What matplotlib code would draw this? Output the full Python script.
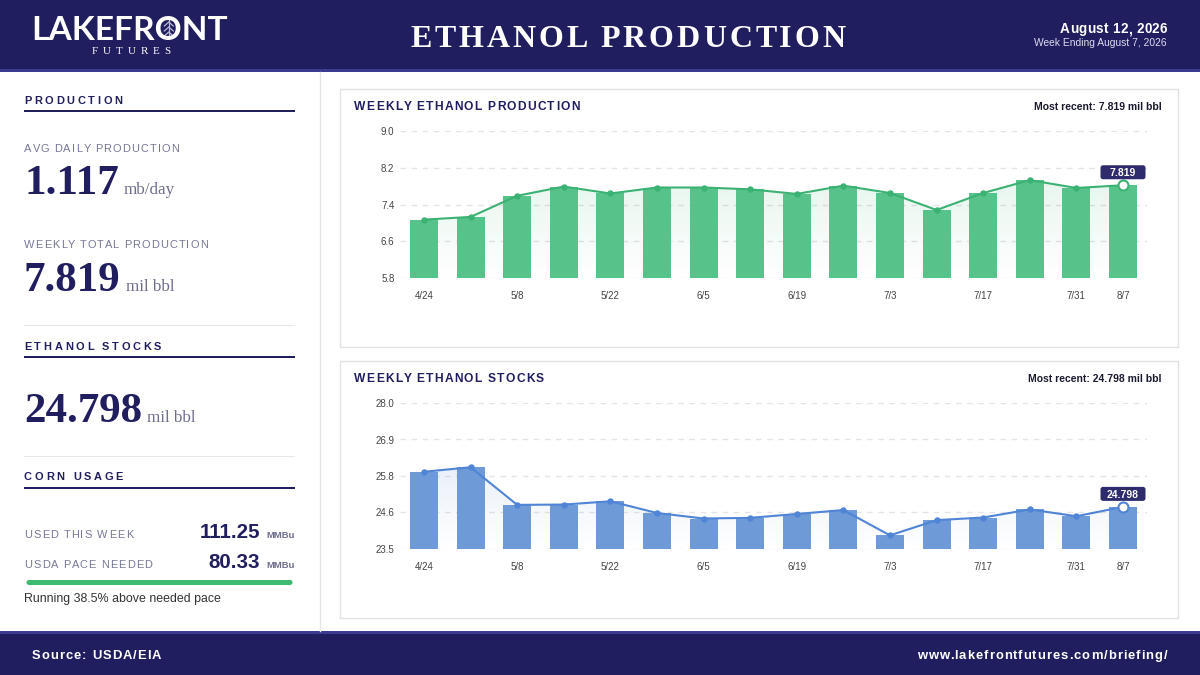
"""
Lakefront Futures ethanol briefing card: weekly production and stocks.
"""
import matplotlib
matplotlib.use('Agg')
import matplotlib.pyplot as plt
from matplotlib.patches import Rectangle, FancyBboxPatch
from matplotlib.transforms import IdentityTransform
import numpy as np

# data
weeks = ['4/24', '5/1', '5/8', '5/15', '5/22', '5/29', '6/5', '6/12',
         '6/19', '6/26', '7/3', '7/10', '7/17', '7/24', '7/31', '8/7']
tick_weeks = ['4/24', '5/8', '5/22', '6/5', '6/19', '7/3', '7/17', '7/31', '8/7']
production = [7.07, 7.13, 7.59, 7.79, 7.64, 7.77, 7.77, 7.73,
              7.63, 7.81, 7.65, 7.28, 7.65, 7.93, 7.76, 7.819]
stocks = [25.88, 26.02, 24.86, 24.87, 24.97, 24.61, 24.44, 24.46,
          24.58, 24.70, 23.92, 24.39, 24.47, 24.72, 24.51, 24.798]
prod_ticks = [5.8, 6.6, 7.4, 8.2, 9.0]
stock_ticks = [23.5, 24.625, 25.75, 26.875, 28.0]

avg_daily = '1.117'
weekly_total = '7.819'
stocks_now = '24.798'
corn_used = '111.25'
corn_needed = '80.33'
pace_note = 'Running 38.5% above needed pace'

NAVY = '#201e5e'
STRIP = '#3b3a93'
LABEL = '#77779a'
UNIT = '#6e6e8e'

W, H = 1200, 675
fig = plt.figure(figsize=(12, 6.75), dpi=100)
bg = fig.add_axes([0, 0, 1, 1], zorder=0)
bg.set_xlim(0, W)
bg.set_ylim(H, 0)
bg.axis('off')
renderer = fig.canvas.get_renderer()


def px(v):
    # pixel size -> points
    return v * 0.72


def text_w(s, **kw):
    t = bg.text(0, 0, s, **kw)
    w = t.get_window_extent(renderer).width
    t.remove()
    return w


def spaced(x, y, s, spacing, ha='left', **kw):
    """draw letter-spaced text char by char, baseline at y"""
    base = text_w('HH', **kw)
    pos = [0.0] + [text_w('H' + s[:i] + 'H', **kw) - base for i in range(1, len(s))]
    total = text_w('H' + s + 'H', **kw) - base + spacing * (len(s) - 1)
    if ha == 'center':
        x = x - total / 2
    elif ha == 'right':
        x = x - total
    for i, ch in enumerate(s):
        if ch != ' ':
            bg.text(x + pos[i] + i * spacing, y, ch, va='baseline', ha='left', **kw)
    return x + total


def hline(x0, x1, y, h, color):
    bg.add_patch(Rectangle((x0, y - h / 2), x1 - x0, h, color=color, lw=0))


# header and footer bands
bg.add_patch(Rectangle((0, 0), W, 69, color=NAVY, lw=0))
bg.add_patch(Rectangle((0, 69), W, 3, color=STRIP, lw=0))
bg.add_patch(Rectangle((0, 631), W, 44, color=NAVY, lw=0))
bg.add_patch(Rectangle((0, 631), W, 3, color=STRIP, lw=0))

# logo
logo_kw = dict(color='white', fontsize=px(33.5), family='Lato', weight='bold')
logo_w = text_w('LAKEFRONT', **logo_kw)
lx = 130 - logo_w / 2
bg.text(lx, 40, 'LAKEFRONT', ha='left', va='baseline', **logo_kw)
o_left = lx + text_w('HLAKEFRH', **logo_kw) - text_w('HH', **logo_kw)
o_mid = o_left + text_w('O', **logo_kw) / 2
bg.plot([o_mid, o_mid], [20, 37], color='#b9b9d6', lw=0.9)
for k in range(3):
    yy = 22 + k * 5
    bg.plot([o_mid - 4.5, o_mid, o_mid + 4.5], [yy + 4, yy, yy + 4], color='#b9b9d6', lw=0.9)
spaced(131, 54, 'FUTURES', 5, ha='center', color='white', fontsize=px(11),
       family='Liberation Serif')

spaced(628, 47, 'ETHANOL PRODUCTION', 3, ha='center', color='white',
       fontsize=px(32), family='Liberation Serif', weight='bold')
spaced(1167, 33, 'August 12, 2026', 0.3, ha='right', color='white',
       fontsize=px(13.5), family='Liberation Sans', weight='bold')
bg.text(1167, 46, 'Week Ending August 7, 2026', color='#dcdcf2', fontsize=px(10.3),
        family='Liberation Sans', ha='right', va='baseline')

spaced(32, 659, 'Source: USDA/EIA', 1, color='white', fontsize=px(13),
       family='Liberation Sans', weight='bold')
spaced(1167, 659, 'www.lakefrontfutures.com/briefing/', 1, ha='right', color='white',
       fontsize=px(13), family='Liberation Sans', weight='bold')

# left panel
bg.plot([319.5, 319.5], [72, 631], color='#e6e6ea', lw=1)

sec_kw = dict(color=NAVY, fontsize=px(11), family='Liberation Sans', weight='bold')
lab_kw = dict(color=LABEL, fontsize=px(11), family='Liberation Sans')
big_kw = dict(color=NAVY, fontsize=px(43), family='Liberation Serif', weight='bold')
unit_kw = dict(color=UNIT, fontsize=px(17), family='Liberation Serif')


def big_number(y, value, unit):
    bg.text(24, y, value, va='baseline', ha='left', **big_kw)
    x = 24 + text_w(value, **big_kw) + 5
    bg.text(x, y, unit, va='baseline', ha='left', **unit_kw)


spaced(24, 104, 'PRODUCTION', 2.7, **sec_kw)
hline(24, 295, 111, 2, NAVY)
spaced(24, 151.5, 'AVG DAILY PRODUCTION', 1.2, **lab_kw)
big_number(194.5, avg_daily, 'mb/day')
spaced(24, 248, 'WEEKLY TOTAL PRODUCTION', 1.2, **lab_kw)
big_number(291, weekly_total, 'mil bbl')
hline(24, 295, 325, 1, '#e8e8ec')

spaced(24, 349.5, 'ETHANOL STOCKS', 2.7, **sec_kw)
hline(24, 295, 356.5, 2, NAVY)
big_number(422.5, stocks_now, 'mil bbl')
hline(24, 295, 456, 1, '#e8e8ec')

spaced(24, 480.5, 'CORN USAGE', 2.7, **sec_kw)
hline(24, 295, 487.5, 2, NAVY)
corn_kw = dict(color=NAVY, fontsize=px(20.5), family='Liberation Sans', weight='bold')
mmbu_kw = dict(color=UNIT, fontsize=px(9.5), family='Liberation Sans', weight='bold')
for y, label, val in [(537.5, 'USED THIS WEEK', corn_used),
                      (568.5, 'USDA PACE NEEDED', corn_needed)]:
    spaced(24, y, label, 1.2, **lab_kw)
    bg.text(260, y, val, ha='right', va='baseline', **corn_kw)
    bg.text(295, y, 'MMBu', ha='right', va='baseline', **mmbu_kw)
bg.add_patch(FancyBboxPatch((26.5, 580), 266, 5, boxstyle='round,pad=0,rounding_size=2.5',
                            color='#3dba6f', lw=0, mutation_aspect=1))
bg.text(24, 602, pace_note, color='#333333', fontsize=px(12.4), family='Liberation Sans',
        va='baseline')


# chart cards
def card(top, bottom, title, recent):
    bg.add_patch(Rectangle((339.5, top), 838, bottom - top, facecolor='white',
                           edgecolor='#e2e2e6', lw=1))
    spaced(354, top + 21, title, 1.3, color=NAVY, fontsize=px(12),
           family='Liberation Sans', weight='bold')
    bg.text(1162, top + 21, recent, color='#1a1a2e', fontsize=px(10.4),
            family='Liberation Sans', weight='bold', ha='right', va='baseline')


card(89, 347, 'WEEKLY ETHANOL PRODUCTION', 'Most recent: 7.819 mil bbl')
card(361, 618, 'WEEKLY ETHANOL STOCKS', 'Most recent: 24.798 mil bbl')


def chart(top, bottom, values, ticks, fmt, bar_color, line_color, rgb):
    ax = fig.add_axes([400 / W, 1 - bottom / H, 747 / W, (bottom - top) / H], zorder=2)
    ax.patch.set_alpha(0)
    x = np.arange(len(values))
    ymin, ymax = ticks[0], ticks[-1]
    vals = np.array(values)

    ax.bar(x, vals - ymin, bottom=ymin, width=0.6, color=bar_color, zorder=2)

    # soft gradient under the line
    poly = ax.fill_between(x, vals, ymin, color='none', lw=0)
    grad = np.zeros((256, 1, 4))
    grad[:, 0, :3] = rgb
    grad[:, 0, 3] = np.linspace(0.0, 0.12, 256)
    im = ax.imshow(grad, extent=[x[0], x[-1], ymin, vals.max()], origin='lower',
                   aspect='auto', zorder=1, interpolation='bilinear')
    im.set_clip_path(poly.get_paths()[0], transform=ax.transData)

    ax.plot(x, vals, color=line_color, lw=1.5, zorder=3)
    ax.plot(x[:-1], vals[:-1], 'o', color=line_color, ms=px(5), zorder=4)
    ax.plot(x[-1], vals[-1], 'o', mfc='white', mec=line_color, mew=1.5, ms=px(10), zorder=5)

    ax.set_xlim(-0.515, len(values) - 0.485)
    ax.set_ylim(ymin, ymax)

    # value badge above the latest point (display pixels)
    badge_kw = dict(color='white', fontsize=px(10.4), family='Liberation Sans', weight='bold')
    label = fmt.format(vals[-1])
    bw = max(text_w(label, **badge_kw) + 12, 45)
    dx, dy = ax.transData.transform((x[-1], vals[-1]))
    ax.add_patch(FancyBboxPatch((dx - bw / 2, dy + 6), bw, 14,
                                boxstyle='round,pad=0,rounding_size=2.5',
                                transform=IdentityTransform(), fc='#2e2c6c', ec='none',
                                zorder=6, clip_on=False))
    ax.text(dx, dy + 9.3, label, transform=IdentityTransform(), ha='center',
            va='baseline', zorder=7, **badge_kw)

    ax.set_yticks(ticks)
    ax.set_yticklabels(['{:.1f}'.format(t) for t in ticks])
    ax.set_xticks([weeks.index(w) for w in tick_weeks])
    ax.set_xticklabels(tick_weeks)
    ax.tick_params(length=0, labelsize=7, labelcolor='#444444')
    ax.tick_params(axis='y', pad=4)
    ax.tick_params(axis='x', pad=9)
    for lab in ax.get_xticklabels() + ax.get_yticklabels():
        lab.set_family('Liberation Sans')
    for sp in ax.spines.values():
        sp.set_visible(False)
    ax.grid(axis='y', color='#e4e4e4', lw=1, ls=(0, (4, 4)), zorder=0)
    ax.set_axisbelow(True)
    return ax


chart(131, 278, production, prod_ticks, '{:.3f}', '#57c38b', '#3bb273', (0.23, 0.70, 0.45))
chart(403, 549, stocks, stock_ticks, '{:.3f}', '#6f9ad8', '#4f84d6', (0.31, 0.52, 0.84))

fig.savefig('out.png', dpi=100)
